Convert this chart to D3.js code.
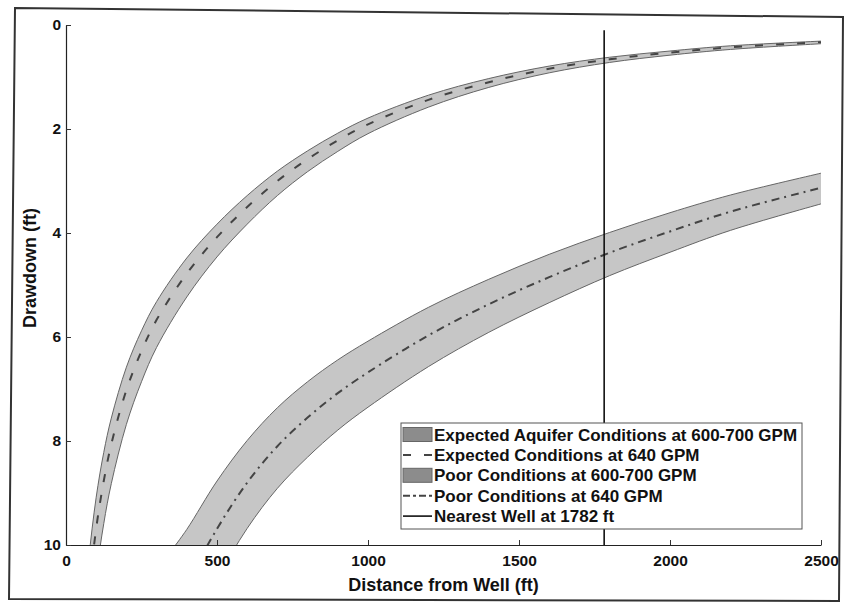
<!DOCTYPE html>
<html>
<head>
<meta charset="utf-8">
<script src="https://cdn.jsdelivr.net/npm/d3@7"></script>
<style>
  body { margin: 0; background: #fff; }
  svg { display: block; font-family: "Liberation Sans", Arial, sans-serif; }
</style>
</head>
<body>
<svg id="chart" width="846" height="606"></svg>
<script>
// distances (ft) and drawdowns (ft)
const expDist  = [60, 75, 100, 125, 150, 200, 250, 300, 400, 500, 600, 700, 800, 900, 1000, 1200, 1400, 1600, 1800, 2000, 2200, 2500];
const expLow   = [11.25, 10.28, 9.08, 8.22, 7.56, 6.58, 5.88, 5.32, 4.48, 3.83, 3.28, 2.81, 2.42, 2.08, 1.79, 1.35, 1.03, 0.79, 0.62, 0.5, 0.4, 0.31];
const expMid   = [12.0, 10.97, 9.68, 8.77, 8.06, 7.02, 6.27, 5.67, 4.78, 4.08, 3.5, 3.0, 2.58, 2.22, 1.91, 1.44, 1.1, 0.84, 0.66, 0.53, 0.43, 0.33];
const expHigh  = [13.13, 12.0, 10.59, 9.59, 8.82, 7.68, 6.86, 6.2, 5.23, 4.46, 3.83, 3.28, 2.82, 2.43, 2.09, 1.58, 1.2, 0.92, 0.72, 0.58, 0.47, 0.36];

const poorDist = [350, 400, 500, 600, 700, 800, 900, 1000, 1200, 1400, 1600, 1800, 2000, 2200, 2500];
const poorLow  = [10.1, 9.7, 8.77, 7.99, 7.36, 6.86, 6.44, 6.08, 5.43, 4.89, 4.41, 3.99, 3.61, 3.27, 2.85];
const poorMid  = [11.4, 10.75, 9.69, 8.8, 8.1, 7.55, 7.08, 6.68, 5.97, 5.37, 4.85, 4.38, 3.97, 3.59, 3.13];
const poorHigh = [12.54, 11.83, 10.66, 9.68, 8.91, 8.31, 7.79, 7.35, 6.57, 5.91, 5.34, 4.82, 4.37, 3.95, 3.44];

const wellDist = 1782;
const wellDrawdown = [0.1, 10];

const xTicks = [0, 500, 1000, 1500, 2000, 2500];
const yTicks = [0, 2, 4, 6, 8, 10];

const legendLabels = [
  "Expected Aquifer Conditions at 600-700 GPM",
  "Expected Conditions at 640 GPM",
  "Poor Conditions at 600-700 GPM",
  "Poor Conditions at 640 GPM",
  "Nearest Well at 1782 ft"
];

const svg = d3.select("#chart");
const plot = { left: 66, right: 821, top: 25, bottom: 545 };

const x = d3.scaleLinear().domain([0, 2500]).range([plot.left, plot.right]);
const y = d3.scaleLinear().domain([0, 10]).range([plot.top, plot.bottom]);

const curve = d3.curveCatmullRom.alpha(0.5);

// scanned page frame
svg.append("path")
  .attr("d", "M15,8 L843,17 L839,601 L9,599 Z")
  .attr("fill", "none")
  .attr("stroke", "#333")
  .attr("stroke-width", 2);

svg.append("clipPath").attr("id", "clip")
  .append("rect")
  .attr("x", plot.left).attr("y", plot.top - 10)
  .attr("width", plot.right - plot.left + 2)
  .attr("height", plot.bottom - plot.top + 10);

const g = svg.append("g").attr("clip-path", "url(#clip)");

function band(dist, lo, hi) {
  const rows = dist.map((d, i) => ({ d, lo: lo[i], hi: hi[i] }));
  g.append("path")
    .datum(rows)
    .attr("fill", "#c6c6c6")
    .attr("d", d3.area().curve(curve)
      .x(r => x(r.d)).y0(r => y(r.lo)).y1(r => y(r.hi)));
  [lo, hi].forEach(vals => {
    g.append("path")
      .datum(dist.map((d, i) => [d, vals[i]]))
      .attr("fill", "none")
      .attr("stroke", "#666")
      .attr("stroke-width", 1)
      .attr("d", d3.line().curve(curve).x(p => x(p[0])).y(p => y(p[1])));
  });
}

function centre(dist, vals, dash) {
  g.append("path")
    .datum(dist.map((d, i) => [d, vals[i]]))
    .attr("fill", "none")
    .attr("stroke", "#444")
    .attr("stroke-width", 2)
    .attr("stroke-dasharray", dash)
    .attr("d", d3.line().curve(curve).x(p => x(p[0])).y(p => y(p[1])));
}

const dashExp = "8,13";
const dashPoor = "8,5,2,5";

band(expDist, expLow, expHigh);
band(poorDist, poorLow, poorHigh);
centre(expDist, expMid, dashExp);
centre(poorDist, poorMid, dashPoor);

g.append("line")
  .attr("x1", x(wellDist)).attr("x2", x(wellDist))
  .attr("y1", y(wellDrawdown[0])).attr("y2", y(wellDrawdown[1]))
  .attr("stroke", "#111")
  .attr("stroke-width", 1.6);

// axes
const xAxis = svg.append("g")
  .attr("transform", `translate(0,${plot.bottom})`)
  .call(d3.axisBottom(x).tickValues(xTicks).tickSize(-5).tickSizeOuter(0).tickPadding(10).tickFormat(d3.format("d")));
const yAxis = svg.append("g")
  .attr("transform", `translate(${plot.left},0)`)
  .call(d3.axisLeft(y).tickValues(yTicks).tickSize(-5).tickSizeOuter(0).tickPadding(5).tickFormat(d3.format("d")));

[xAxis, yAxis].forEach(a => {
  a.select(".domain").attr("stroke", "#222").attr("stroke-width", 1.2);
  a.selectAll(".tick line").attr("stroke", "#333");
  a.selectAll(".tick text")
    .attr("fill", "#111")
    .style("font-size", "15.5px")
    .style("font-weight", "bold")
    .style("font-family", "'Liberation Sans', Arial, sans-serif");
});

svg.append("text")
  .attr("x", (plot.left + plot.right) / 2)
  .attr("y", 591)
  .attr("text-anchor", "middle")
  .style("font-size", "18px")
  .style("font-weight", "bold")
  .attr("fill", "#111")
  .text("Distance from Well (ft)");

svg.append("text")
  .attr("transform", "translate(36,268) rotate(-90)")
  .attr("text-anchor", "middle")
  .style("font-size", "18px")
  .style("font-weight", "bold")
  .attr("fill", "#111")
  .text("Drawdown (ft)");

// legend
const legend = svg.append("g");
legend.append("rect")
  .attr("x", 401).attr("y", 423)
  .attr("width", 401).attr("height", 106)
  .attr("fill", "#fff")
  .attr("stroke", "#555")
  .attr("stroke-width", 1);

const rowY = i => 434.5 + i * 20.4;
const kinds = ["patch", "dash", "patch", "dashdot", "solid"];

legendLabels.forEach((label, i) => {
  const cy = rowY(i);
  const kind = kinds[i];
  if (kind === "patch") {
    legend.append("rect")
      .attr("x", 403).attr("y", cy - 7)
      .attr("width", 29).attr("height", 14)
      .attr("fill", "#8c8c8c")
      .attr("stroke", "#666");
  } else {
    legend.append("line")
      .attr("x1", 403).attr("x2", 432)
      .attr("y1", cy).attr("y2", cy)
      .attr("stroke", kind === "solid" ? "#111" : "#444")
      .attr("stroke-width", kind === "solid" ? 1.6 : 2)
      .attr("stroke-dasharray", kind === "dash" ? dashExp : kind === "dashdot" ? "7,3,3,3" : null);
  }
  legend.append("text")
    .attr("x", 434)
    .attr("y", cy)
    .attr("dy", "0.36em")
    .style("font-size", "17px")
    .style("font-weight", "bold")
    .attr("fill", "#111")
    .text(label);
});
</script>
</body>
</html>
